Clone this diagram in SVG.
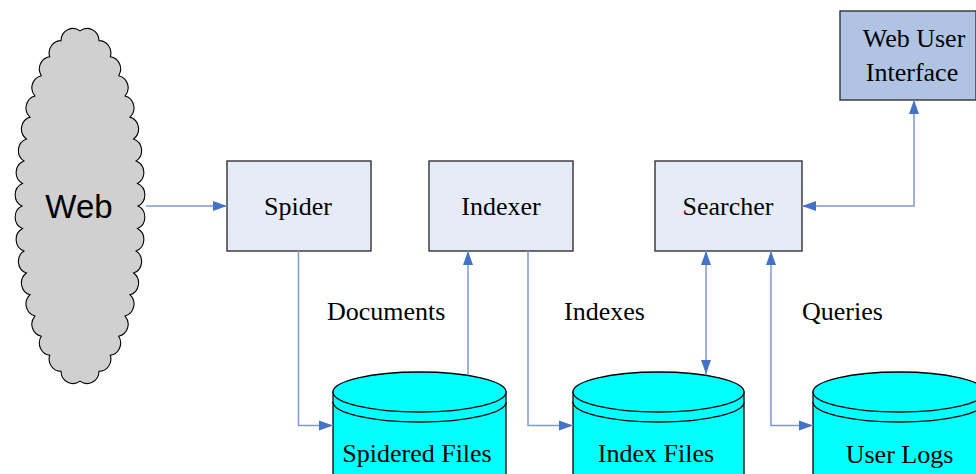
<svg xmlns="http://www.w3.org/2000/svg" width="976" height="474" viewBox="0 0 976 474">
<style>
.box{fill:#e6ecf7;stroke:#333;stroke-width:1.4}
.ui{fill:#b0c3e3;stroke:#333;stroke-width:1.4}
.cyl{fill:#00ffff;stroke:#000;stroke-width:1.3}
.cl{fill:none;stroke:#000;stroke-width:1.3}
.t{font-family:"Liberation Serif","Times New Roman",serif;font-size:26px;fill:#000;text-anchor:middle}
.lbl{font-family:"Liberation Serif","Times New Roman",serif;font-size:26px;fill:#000}
.c{fill:none;stroke:#7b9bd2;stroke-width:1.5}
</style>
<defs>
<marker id="ah" markerUnits="userSpaceOnUse" markerWidth="15" markerHeight="11" refX="14" refY="5.5" orient="auto-start-reverse">
<path d="M0,0.5 L14,5.5 L0,10.5 z" fill="#4472c4"/>
</marker>
</defs>
<rect width="976" height="474" fill="#fff"/>

<g id="web">
<path fill="#d0d0d0" stroke="#000" stroke-width="1.1" transform="translate(80,206) scale(1,1.03) translate(-80,-206)" d="M138,206 A12,12 0 0 1 137.5,227.9 A12,12 0 0 1 136.1,249.7 A12,12 0 0 1 133.6,271.1 A12,12 0 0 1 130,292.3 A12,12 0 0 1 125.1,312.8 A12,12 0 0 1 118.7,332.5 A12,12 0 0 1 110.3,350.9 A12,12 0 0 1 99,366.6 A12,12 0 0 1 80,376 A12,12 0 0 1 61,366.6 A12,12 0 0 1 49.7,350.9 A12,12 0 0 1 41.3,332.5 A12,12 0 0 1 34.9,312.8 A12,12 0 0 1 30,292.3 A12,12 0 0 1 26.4,271.1 A12,12 0 0 1 23.9,249.7 A12,12 0 0 1 22.5,227.9 A12,12 0 0 1 22,206 A12,12 0 0 1 22.5,184.1 A12,12 0 0 1 23.9,162.3 A12,12 0 0 1 26.4,140.9 A12,12 0 0 1 30,119.7 A12,12 0 0 1 34.9,99.2 A12,12 0 0 1 41.3,79.5 A12,12 0 0 1 49.7,61.1 A12,12 0 0 1 61,45.4 A12,12 0 0 1 80,36 A12,12 0 0 1 99,45.4 A12,12 0 0 1 110.3,61.1 A12,12 0 0 1 118.7,79.5 A12,12 0 0 1 125.1,99.2 A12,12 0 0 1 130,119.7 A12,12 0 0 1 133.6,140.9 A12,12 0 0 1 136.1,162.3 A12,12 0 0 1 137.5,184.1 A12,12 0 0 1 138,206 Z"/>
<text x="79" y="218" font-family="Liberation Sans, Arial, sans-serif" font-size="33" text-anchor="middle">Web</text>
</g>

<g id="spider">
<rect class="box" x="227" y="161" width="144" height="90"/>
<text class="t" x="298" y="215">Spider</text>
</g>
<g id="indexer">
<rect class="box" x="429" y="161" width="144" height="90"/>
<text class="t" x="501" y="215">Indexer</text>
</g>
<g id="searcher">
<rect class="box" x="655" y="161" width="147" height="90"/>
<text class="t" x="728" y="215">Searcher</text>
</g>
<g id="webui">
<rect class="ui" x="840" y="11" width="136" height="89"/>
<text class="t" x="914" y="47">Web User</text>
<text class="t" x="912" y="81">Interface</text>
</g>

<g id="spidered-files">
<path class="cyl" d="M333,392 L333,474 A86.5,20 0 0 0 506,474 L506,392 Z"/>
<ellipse class="cyl" cx="419.5" cy="392" rx="86.5" ry="20"/>
<path class="cl" d="M333,402 A86.5,20 0 0 0 506,402"/>
<text class="t" x="417" y="462">Spidered Files</text>
</g>
<g id="index-files">
<path class="cyl" d="M573,392 L573,474 A85.5,20 0 0 0 744,474 L744,392 Z"/>
<ellipse class="cyl" cx="658.5" cy="392" rx="85.5" ry="20"/>
<path class="cl" d="M573,402 A85.5,20 0 0 0 744,402"/>
<text class="t" x="656" y="462">Index Files</text>
</g>
<g id="user-logs">
<path class="cyl" d="M813,392 L813,474 A86,20 0 0 0 985,474 L985,392 Z"/>
<ellipse class="cyl" cx="899" cy="392" rx="86" ry="20"/>
<path class="cl" d="M813,402 A86,20 0 0 0 985,402"/>
<text class="t" x="899.5" y="463">User Logs</text>
</g>

<g id="connectors">
<path class="c" d="M146,206 H227" marker-end="url(#ah)"/>
<path class="c" d="M298.5,251 V425.5 H333" marker-end="url(#ah)"/>
<path class="c" d="M468,375 V251" marker-end="url(#ah)"/>
<path class="c" d="M528,251 V425.5 H573" marker-end="url(#ah)"/>
<path class="c" d="M706,251 V374" marker-start="url(#ah)" marker-end="url(#ah)"/>
<path class="c" d="M771,251 V425.5 H813" marker-start="url(#ah)" marker-end="url(#ah)"/>
<path class="c" d="M802,206 H914 V100" marker-start="url(#ah)" marker-end="url(#ah)"/>
</g>

<g id="labels">
<text class="lbl" x="327" y="320">Documents</text>
<text class="lbl" x="564" y="320">Indexes</text>
<text class="lbl" x="802" y="320">Queries</text>
</g>
</svg>
